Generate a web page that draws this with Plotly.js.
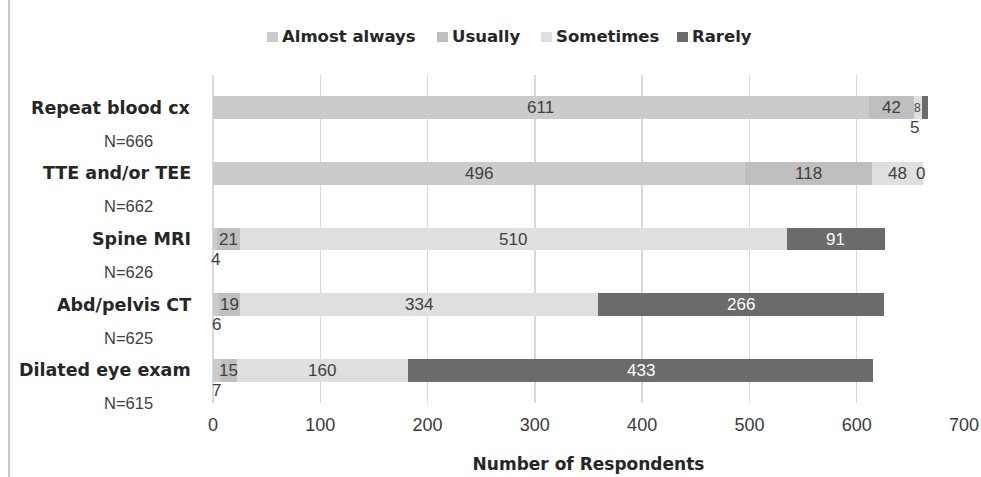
<!DOCTYPE html>
<html>
<head>
<meta charset="utf-8">
<script src="https://cdn.plot.ly/plotly-3.0.1.min.js"></script>
<style>
  html, body { margin: 0; padding: 0; background: #ffffff; }
  #chart { width: 981px; height: 477px; }
</style>
</head>
<body>
<div id="chart"></div>
<script>
// Follow-up tests by how often respondents order them
const categories = ['Repeat blood cx', 'TTE and/or TEE', 'Spine MRI', 'Abd/pelvis CT', 'Dilated eye exam'];
const seriesNames = ['Almost always', 'Usually', 'Sometimes', 'Rarely'];
const almostAlways = [611, 496, 4, 6, 7];
const usually = [42, 118, 21, 19, 15];
const sometimes = [8, 48, 510, 334, 160];
const rarely = [5, 0, 91, 266, 433];
const xTickValues = [0, 100, 200, 300, 400, 500, 600, 700];

const seriesValues = [almostAlways, usually, sometimes, rarely];
const seriesColors = ['#cbcbcb', '#bfbfbf', '#dfdfdf', '#6b6b6b'];
const labelColors = ['#404040', '#404040', '#404040', '#ffffff'];

// plot-area geometry in pixels, used to place the paper-referenced pieces
const W = 981, H = 477;
const M = { l: 213, r: 17, t: 75, b: 74 };
const plotW = W - M.l - M.r, plotH = H - M.t - M.b;
const px = x => (x - M.l) / plotW;
const py = y => 1 - (y - M.t) / plotH;

const traces = seriesNames.map((name, i) => ({
  type: 'bar',
  orientation: 'h',
  name: name,
  x: seriesValues[i],
  y: categories,
  width: 0.35,
  marker: { color: seriesColors[i], line: { width: 0 } },
  textposition: 'none',
  hoverinfo: 'x+name',
  showlegend: false
}));

const annotations = [];
const valueFont = { family: 'Liberation Sans, Arial, sans-serif', size: 17 };

// segment value labels
categories.forEach((cat, c) => {
  let base = 0;
  seriesValues.forEach((vals, s) => {
    const v = vals[c];
    const mid = base + v / 2;
    const a = {
      xref: 'x', yref: 'y', x: mid, y: cat,
      text: String(v), showarrow: false,
      xanchor: 'center', yanchor: 'middle',
      font: Object.assign({}, valueFont, { color: labelColors[s] })
    };
    if (v === 0) {
      a.font.color = '#404040';
      a.xshift = -3;
    } else if (v < 10) {
      if (s === 0 || s === 3) {
        // too narrow: label sits just under the bar
        a.font.color = '#404040';
        a.yshift = -20;
        if (s === 3) a.xshift = -10;
      } else {
        a.font.size = 12;
      }
    }
    annotations.push(a);
    base += v;
  });
});

// category names and respondent totals
const labelFont = { family: 'DejaVu Sans, sans-serif', size: 17.5, color: '#262626', weight: 'bold' };
categories.forEach((cat, c) => {
  const total = seriesValues.reduce((sum, vals) => sum + vals[c], 0);
  annotations.push({
    xref: 'paper', yref: 'y', x: px(193), y: cat,
    text: cat, showarrow: false, xanchor: 'right', yanchor: 'middle',
    font: labelFont
  });
  annotations.push({
    xref: 'paper', yref: 'y', x: px(128), y: cat, yshift: -33,
    text: 'N=' + total, showarrow: false, xanchor: 'center', yanchor: 'middle',
    font: { family: 'Liberation Sans, Arial, sans-serif', size: 16.5, color: '#404040' }
  });
});

// legend row along the top
const legendX = [267, 437, 541, 677];
const legendY = 37;
const shapes = [];
seriesNames.forEach((name, i) => {
  shapes.push({
    type: 'rect', xref: 'paper', yref: 'paper',
    x0: px(legendX[i]), x1: px(legendX[i] + 11),
    y0: py(legendY + 5), y1: py(legendY - 5),
    fillcolor: seriesColors[i], line: { width: 0 }
  });
  annotations.push({
    xref: 'paper', yref: 'paper',
    x: px(legendX[i] + 13), y: py(legendY),
    text: name, showarrow: false, xanchor: 'left', yanchor: 'middle',
    font: { family: 'DejaVu Sans, sans-serif', size: 16.5, color: '#262626', weight: 'bold' }
  });
});

// thin frame line on the left edge
shapes.push({
  type: 'line', xref: 'paper', yref: 'paper',
  x0: px(9), x1: px(9), y0: py(0), y1: py(H),
  line: { color: '#c8c8c8', width: 2 }
});

const layout = {
  width: W, height: H,
  margin: M,
  paper_bgcolor: '#ffffff',
  plot_bgcolor: '#ffffff',
  barmode: 'stack',
  showlegend: false,
  xaxis: {
    range: [0, 700],
    tickvals: xTickValues,
    ticktext: xTickValues.map(String),
    showgrid: true,
    gridcolor: '#d9d9d9',
    gridwidth: 1.5,
    zeroline: true,
    zerolinecolor: '#d9d9d9',
    zerolinewidth: 1.5,
    showline: false,
    ticks: 'outside',
    ticklen: 5,
    tickcolor: 'rgba(0,0,0,0)',
    tickfont: { family: 'Liberation Sans, Arial, sans-serif', size: 18, color: '#3a3a3a' },
    title: {
      text: 'Number of Respondents',
      standoff: 24,
      font: { family: 'DejaVu Sans, sans-serif', size: 17, color: '#262626', weight: 'bold' }
    },
    automargin: false
  },
  yaxis: {
    type: 'category',
    range: [4.5, -0.5],
    showticklabels: false,
    showgrid: false,
    zeroline: false,
    showline: false,
    ticks: ''
  },
  annotations: annotations,
  shapes: shapes
};

Plotly.newPlot('chart', traces, layout, { displayModeBar: false, staticPlot: true });
</script>
</body>
</html>
